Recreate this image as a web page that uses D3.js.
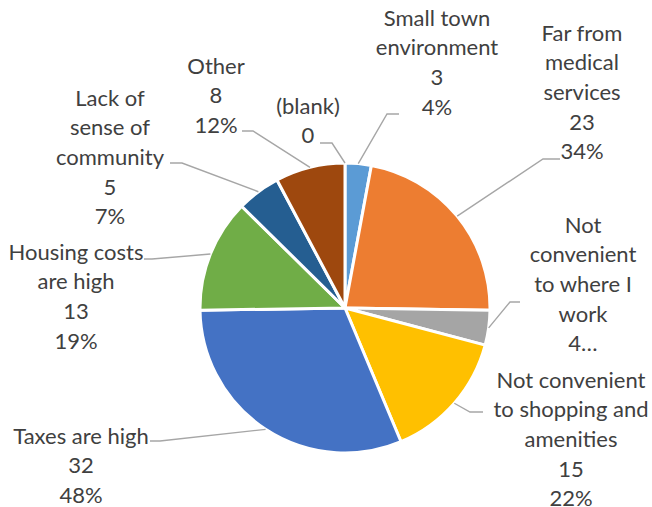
<!DOCTYPE html>
<html>
<head>
<meta charset="utf-8">
<script src="https://cdn.jsdelivr.net/npm/d3@7"></script>
<style>
  html, body { margin: 0; padding: 0; background: #fff; }
  svg { display: block; }
  text { font-family: Lato, "Open Sans", sans-serif; fill: #404040; }
</style>
</head>
<body>
<svg id="chart" width="652" height="507"></svg>
<script>
// Reasons for leaving (responses, with share of respondents)
const categories = [
  "Small town environment",
  "Far from medical services",
  "Not convenient to where I work",
  "Not convenient to shopping and amenities",
  "Taxes are high",
  "Housing costs are high",
  "Lack of sense of community",
  "Other",
  "(blank)"
];
const counts = [3, 23, 4, 15, 32, 13, 5, 8, 0];
const percentLabels = ["4%", "34%", "6%", "22%", "48%", "19%", "7%", "12%", ""];
const colors = ["#5B9BD5", "#ED7D31", "#A5A5A5", "#FFC000", "#4472C4", "#70AD47", "#255E91", "#9E480E", "#636363"];

// Label placement: wrapped name lines, text centre x, first line y,
// max lines shown, and the leader line's attach and elbow points.
const labelLayout = [
  { lines: ["Small town", "environment"], x: 437, y: 18, max: 4, attach: [399, 114], elbow: [387, 114] },
  { lines: ["Far from", "medical", "services"], x: 582, y: 33, max: 5, attach: [560, 159], elbow: [543, 159] },
  { lines: ["Not", "convenient", "to where I", "work"], x: 583, y: 225, max: 5, attach: [520, 302], elbow: [510, 302] },
  { lines: ["Not convenient", "to shopping and", "amenities"], x: 571, y: 380, max: 5, attach: [483, 412], elbow: [470, 412] },
  { lines: ["Taxes are high"], x: 81, y: 436, max: 3, attach: [150, 441], elbow: [160, 441] },
  { lines: ["Housing costs", "are high"], x: 76, y: 252, max: 4, attach: [144, 259], elbow: [152, 259] },
  { lines: ["Lack of", "sense of", "community"], x: 110, y: 98, max: 5, attach: [170, 163], elbow: [182, 163] },
  { lines: ["Other"], x: 216, y: 66, max: 3, attach: [242, 131], elbow: [253, 131] },
  { lines: ["(blank)"], x: 308, y: 106, max: 2, attach: [320, 143], elbow: [332, 143] }
];

const cx = 345, cy = 308, radius = 145;
const fontSize = 22, lineGap = 29.6;

const svg = d3.select("#chart");
const pieG = svg.append("g").attr("transform", `translate(${cx},${cy})`);

const pie = d3.pie().sort(null).value(d => d.value);
const arcs = pie(categories.map((c, i) => ({ name: c, value: counts[i], i })));
const arc = d3.arc().innerRadius(0).outerRadius(radius);

pieG.selectAll("path.slice")
  .data(arcs.filter(a => a.data.value > 0))
  .join("path")
  .attr("class", "slice")
  .attr("d", arc)
  .attr("fill", d => colors[d.data.i])
  .attr("stroke", "#fff")
  .attr("stroke-width", 3)
  .attr("stroke-linejoin", "round");

// Leader lines from each label to the middle of its slice's rim
const leader = d3.line();
svg.append("g").selectAll("path.leader")
  .data(arcs)
  .join("path")
  .attr("class", "leader")
  .attr("fill", "none")
  .attr("stroke", "#A6A6A6")
  .attr("stroke-width", 1.4)
  .attr("d", d => {
    const L = labelLayout[d.data.i];
    const mid = (d.startAngle + d.endAngle) / 2;
    const end = [cx + radius * Math.sin(mid), cy - radius * Math.cos(mid)];
    return leader([L.attach, L.elbow, end]);
  });

// Data labels: category name, value, percentage
const labelG = svg.append("g");
arcs.forEach(d => {
  const i = d.data.i;
  const L = labelLayout[i];
  let lines = L.lines.concat([String(counts[i])]);
  if (percentLabels[i]) lines.push(percentLabels[i]);
  if (lines.length > L.max) {
    lines = lines.slice(0, L.max);
    lines[L.max - 1] = lines[L.max - 1] + "\u2026";
  }
  const t = labelG.append("text")
    .attr("text-anchor", "middle")
    .attr("font-size", fontSize);
  lines.forEach((s, k) => {
    t.append("tspan")
      .attr("x", L.x)
      .attr("y", L.y + k * lineGap)
      .attr("dy", "0.35em")
      .text(s);
  });
});
</script>
</body>
</html>
